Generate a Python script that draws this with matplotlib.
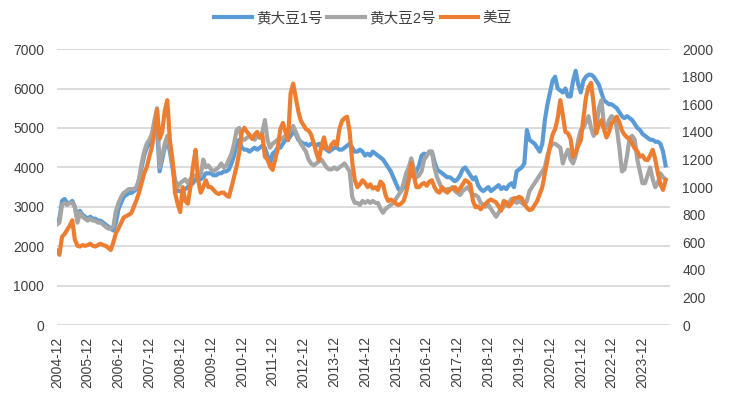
import numpy as np
import matplotlib
matplotlib.use("Agg")
import matplotlib.pyplot as plt

plt.rcParams['font.family'] = ['Liberation Sans', 'Noto Sans CJK SC', 'DejaVu Sans']

# monthly series starting 2004-12
start_year = 2004
soy1 = [2650,
        2700, 3150, 3200, 3100, 3100, 3150, 3000, 2700, 2900, 2800, 2750, 2700,  # 2005
        2750, 2700, 2700, 2650, 2650, 2600, 2550, 2500, 2450, 2400, 2600, 2950,  # 2006
        3100, 3250, 3300, 3350, 3350, 3400, 3450, 3700, 4000, 4300, 4500, 4600,  # 2007
        4700, 4900, 5000, 3900, 4200, 4500, 4700, 4400, 4000, 3600, 3400, 3400,  # 2008
        3400, 3450, 3500, 3550, 3600, 3700, 3750, 3700, 3750, 3850, 3850, 3850,  # 2009
        3800, 3800, 3850, 3850, 3900, 3900, 3950, 4100, 4300, 4600, 4700, 4500,  # 2010
        4450, 4450, 4400, 4450, 4500, 4450, 4500, 4550, 4500, 4300, 4100, 4350,  # 2011
        4400, 4500, 4500, 4600, 4700, 4700, 4800, 4900, 4850, 4700, 4650, 4600,  # 2012
        4600, 4550, 4600, 4600, 4550, 4600, 4500, 4500, 4450, 4400, 4450, 4500,  # 2013
        4500, 4450, 4450, 4500, 4550, 4600, 4500, 4400, 4400, 4450, 4400, 4300,  # 2014
        4350, 4300, 4400, 4350, 4300, 4250, 4200, 4100, 4000, 3900, 3750, 3600,  # 2015
        3450, 3400, 3500, 3550, 3700, 3850, 3800, 3900, 4050, 4300, 4350, 4300,  # 2016
        4400, 4400, 4150, 3950, 3900, 3850, 3800, 3750, 3750, 3700, 3650, 3700,  # 2017
        3800, 3950, 4000, 3900, 3800, 3700, 3750, 3550, 3450, 3400, 3450, 3500,  # 2018
        3400, 3450, 3500, 3550, 3450, 3500, 3450, 3550, 3600, 3500, 3900, 3950,  # 2019
        4000, 4100, 4950, 4700, 4650, 4600, 4500, 4400, 4600, 5200, 5600, 5900,  # 2020
        6200, 6300, 6000, 5950, 5900, 6000, 5800, 5800, 6200, 6450, 6100, 5900,  # 2021
        6200, 6300, 6350, 6350, 6300, 6200, 6100, 5900, 5700, 5650, 5600, 5600,  # 2022
        5550, 5500, 5400, 5300, 5250, 5300, 5250, 5200, 5100, 5000, 4950, 4850,  # 2023
        4800, 4750, 4700, 4700, 4650, 4650, 4600, 4400, 4050]                    # 2024

soy2 = [2550,
        2600, 3050, 3100, 3050, 3100, 3100, 3000, 2600, 2850, 2750, 2700, 2650,
        2700, 2650, 2650, 2600, 2600, 2550, 2500, 2450, 2450, 2500, 2900, 3100,
        3250, 3350, 3400, 3450, 3450, 3450, 3500, 3700, 4100, 4400, 4600, 4700,
        4850, 5200, 5500, 4000, 4300, 4600, 4800, 4500, 4100, 3700, 3500, 3600,
        3650, 3700, 3600, 3700, 3750, 3800, 3750, 3800, 4200, 4000, 4050, 3950,
        3900, 3950, 4000, 4100, 4000, 4050, 4200, 4350, 4600, 4950, 5000, 4700,
        4700, 4750, 4800, 4750, 4700, 4800, 4750, 4900, 5200, 4700, 4500, 4600,
        4650, 4700, 4700, 4750, 4800, 4850, 4950, 5050, 4900, 4750, 4600, 4500,
        4400, 4200, 4100, 4050, 4100, 4150, 4200, 4100, 4000, 3950, 3950, 4000,
        3950, 4000, 4050, 4100, 4000, 3900, 3250, 3100, 3100, 3050, 3150, 3100,
        3150, 3100, 3150, 3100, 3100, 2950, 2850, 2950, 3000, 3050, 3100, 3200,
        3300, 3400, 3600, 3850, 4000, 4230, 3950, 3750, 3800, 3900, 4200, 4300,
        4400, 4400, 4000, 3750, 3600, 3450, 3400, 3450, 3450, 3500, 3400, 3350,
        3300, 3400, 3450, 3500, 3400, 3300, 3300, 3250, 3100, 3050, 3000, 3050,
        2950, 2850, 2750, 2850, 2950, 3000, 3050, 3100, 3200, 3150, 3100, 3150,
        3100, 3050, 3150, 3400, 3500, 3600, 3700, 3800, 3900, 4000, 4300, 4500,
        4600, 4600, 4550, 4500, 4100, 4300, 4450, 4200, 4100, 4300, 4700, 4950,
        5000, 5150, 5300, 5000, 4800, 5000, 5500, 5700, 5100, 5000, 5200, 5300,
        5250, 5000, 4500, 3900, 3950, 4300, 4750, 4800, 4700, 4200, 3900, 3600,
        3600, 3800, 4000, 3700, 3500, 3600, 3850, 3750, 3700]

us_soy = [540,
          510, 640, 660, 690, 720, 760, 620, 575, 570, 580, 575, 580,
          590, 575, 570, 580, 590, 580, 575, 560, 545, 600, 667, 700,
          740, 780, 790, 800, 812, 860, 906, 960, 1030, 1100, 1145, 1220,
          1290, 1400, 1560, 1350, 1400, 1550, 1630, 1340, 1200, 960, 880, 820,
          1000, 900, 880, 1000, 1150, 1270, 1050, 960, 1000, 1050, 1000, 1000,
          980, 960, 950, 960, 960, 940, 930, 1000, 1075, 1150, 1250, 1400,
          1430, 1400, 1380, 1350, 1380, 1400, 1360, 1380, 1220, 1200, 1150, 1125,
          1200, 1280, 1420, 1465, 1400, 1340, 1680, 1750, 1650, 1550, 1480, 1450,
          1420, 1410, 1380, 1320, 1250, 1195, 1300, 1360, 1280, 1270, 1310, 1330,
          1300, 1420, 1480, 1500, 1510, 1400, 1180, 1050, 1000, 1020, 1050, 1030,
          1000, 1020, 990, 1000, 980, 1040, 1020, 940, 900, 910, 900, 880,
          870, 880, 900, 960, 1050, 1175, 1080, 1000, 1000, 1020, 1030, 1010,
          1040, 1050, 1000, 970, 960, 1000, 980, 960, 980, 990, 1000, 970,
          990, 1020, 1050, 1040, 1020, 900, 855, 860, 840, 860, 880, 900,
          910, 900, 890, 860, 830, 900, 890, 860, 880, 920, 920, 930,
          920, 880, 850, 834, 840, 870, 900, 950, 1000, 1100, 1195, 1300,
          1380, 1420, 1500, 1630, 1520, 1400, 1390, 1350, 1220, 1250, 1300, 1340,
          1500, 1650, 1725, 1755, 1600, 1390, 1450, 1485, 1420, 1360, 1400, 1465,
          1480, 1510, 1470, 1410, 1380, 1360, 1350, 1315, 1280, 1260, 1220, 1230,
          1200, 1195, 1230, 1270, 1200, 1100, 1020, 980, 1050]

tick_labels = ["%d-12" % y for y in range(2004, 2024)]

x = np.arange(len(soy1))

fig = plt.figure(figsize=(7.29, 3.99), dpi=100)
ax = fig.add_axes([0.078, 0.185, 0.841, 0.692])
ax2 = ax.twinx()

l1, = ax.plot(x, soy1, color='#5B9BD5', lw=3, label='黄大豆1号', solid_joinstyle='round')
l2, = ax.plot(x, soy2, color='#A5A5A5', lw=3, label='黄大豆2号', solid_joinstyle='round')
l3, = ax2.plot(x, us_soy, color='#ED7D31', lw=3, label='美豆', solid_joinstyle='round')

ax.set_ylim(0, 7000)
ax.set_yticks(range(0, 7001, 1000))
ax2.set_ylim(0, 2000)
ax2.set_yticks(range(0, 2001, 200))
ax.set_xlim(0, 238.7)
ax.set_xticks(np.arange(0, 12 * len(tick_labels), 12))
ax.set_xticklabels(tick_labels, rotation=90)

ax.grid(axis='y', color='#d9d9d9', lw=1.3)
ax.set_axisbelow(True)
for a in (ax, ax2):
    for s in a.spines.values():
        s.set_visible(False)
ax.tick_params(axis='both', length=0, labelsize=10, labelcolor='#404040')
ax.tick_params(axis='y', pad=9)
ax.tick_params(axis='x', pad=8)
ax2.tick_params(axis='y', length=0, labelsize=10, labelcolor='#404040', pad=9)

fig.legend(handles=[l1, l2, l3], loc='center', bbox_to_anchor=(0.498, 0.955), ncol=3,
           frameon=False, fontsize=10.5, handlelength=2.6, handletextpad=0.3,
           columnspacing=0.3, labelcolor='#404040')

fig.savefig('out.png', dpi=100)
